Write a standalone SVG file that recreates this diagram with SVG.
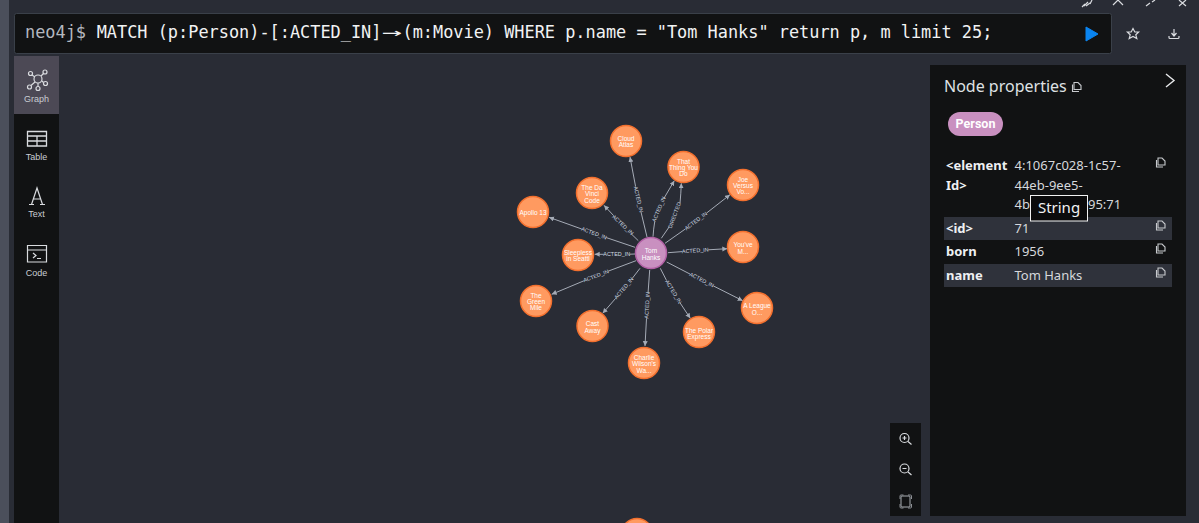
<svg xmlns="http://www.w3.org/2000/svg" width="1199" height="523" viewBox="0 0 1199 523">
<style>
.q{font-family:"DejaVu Sans Mono","Liberation Mono",monospace;font-size:16.9px;fill:#f2f3f4}
.n{font-family:"Liberation Sans",Arial,sans-serif;font-size:6.5px;fill:#fff;text-anchor:middle}
.rl{font-family:"Liberation Sans",Arial,sans-serif;font-size:5.4px;fill:#d3dde4;text-anchor:middle}
.movie{fill:#ff9a60;stroke:#f3702e;stroke-width:1.500}
.person{fill:#c990c0;stroke:#b261a5;stroke-width:1.500}
.e{fill:none;stroke:#a5abb6;stroke-width:1;marker-end:url(#a)}
.p{font-family:"Noto Sans","Open Sans",sans-serif;font-size:13px;fill:#d6d8dc}
.k{font-weight:700;fill:#eef0f2}
.s{font-family:"Liberation Sans",Arial,sans-serif;font-size:9px;fill:#c9ccd2;text-anchor:middle}
.i{fill:none;stroke:#d9dbdf;stroke-width:1.2}
</style>
<defs>
<marker id="a" markerUnits="userSpaceOnUse" markerWidth="6" markerHeight="6" refX="5" refY="2.500" orient="auto"><path d="M0 0L5 2.500L0 5Z" fill="#a5abb6"/></marker>
<g id="c"><path d="M-3 -4H1L4 -1V3H-3Z" fill="none" stroke="#c8cace" stroke-width="1.1"/><path d="M-4.500 -2V5H2" fill="none" stroke="#c8cace" stroke-width="1.1"/></g>
</defs>
<rect width="1199" height="523" fill="#292c35"/>
<rect width="9" height="523" fill="#4b4f5b"/>

<g id="query-bar">
<rect x="14.500" y="13.500" width="1097" height="40" rx="2" fill="#111213" stroke="#3a4049"/>
<text x="25" y="38" class="q"><tspan fill="#b4b8bf">neo4j$</tspan></text>
<text x="96.700" y="38" class="q">MATCH (p:Person)-[:ACTED_IN]</text>
<text x="381.500" y="38" class="q" textLength="20" lengthAdjust="spacingAndGlyphs">→</text>
<text x="402.500" y="38" class="q">(m:Movie) WHERE p.name = "Tom Hanks" return p, m limit 25;</text>
<path d="M1086 27L1098 34L1086 41Z" fill="#0a84f0" stroke="#0a84f0" stroke-linejoin="round"/>
</g>
<g id="toolbar">
<path d="M1133 28.500L1134.800 32H1138.600L1135.800 34.800L1136.800 38.500L1133 36.500L1129.200 38.500L1130.200 34.800L1127.400 32H1131.200Z" class="i"/>
<path d="M1174 29V35M1171.500 33L1174 36L1176.500 33M1169 36V37.500Q1169 38.500 1170 38.500H1178Q1179 38.500 1179 37.500V36" class="i"/>
<path d="M1084 6L1088 2M1092 0L1090 4M1082 7L1085 4M1086 6L1090 3" class="i"/>
<path d="M1113 5L1118 0L1123 5" class="i"/>
<path d="M1146 6L1150 3M1152 2L1155 0" class="i"/>
<path d="M1179 0L1186 6M1186 0L1179 6" class="i"/>
</g>

<g id="sidebar">
<rect x="14" y="56" width="45" height="467" fill="#111213"/>
<rect x="14" y="56" width="45" height="58" fill="#4c4955"/>
<g id="tab-graph">
<g class="i"><circle cx="38" cy="79" r="4"/><circle cx="30.500" cy="73.500" r="2"/><circle cx="45" cy="72" r="2"/><circle cx="29.500" cy="87" r="2"/><circle cx="45.500" cy="83.500" r="2"/><circle cx="38" cy="88.500" r="2"/><path d="M32 75L35 77M43.500 73.500L41 76M31 85.500L35 82M43.500 82.500L42 81M38 83V86.500"/></g>
<text x="36.500" y="102" class="s">Graph</text>
</g>
<g id="tab-table">
<path d="M27.500 131.500H46.500V146H27.500ZM27.500 136H46.500M27.500 141H46.500M37 136V146" fill="none" stroke="#d9dbdf" stroke-width="1.300"/>
<text x="36.500" y="160" class="s">Table</text>
</g>
<g id="tab-text">
<path d="M29 204.500H34M40 204.500H45M31.500 204.500L37 188L42.500 204.500M33 199H41" class="i"/>
<text x="36.500" y="217" class="s">Text</text>
</g>
<g id="tab-code">
<path d="M27.500 245.500H46.500V262H27.500ZM27.500 250H46.500M33 253L36 255.500L33 258M37 258.500H41" fill="none" stroke="#d9dbdf" stroke-width="1.200"/>
<text x="36.500" y="276" class="s">Code</text>
</g>
</g>

<g id="connectors">
<path class="e" d="M647 237L641 212M635.600 186.600L630 157"/>
<path class="e" d="M653 236.700Q653.500 229 654.700 221.700M664.300 197.700L674.300 180.700"/>
<path class="e" d="M661.300 238.300L669.300 226.700M680 203.300Q681 193 681.300 183.300"/>
<path class="e" d="M665 243.300L685.600 228.800M706.400 213.200L730 194.700"/>
<path class="e" d="M668 252.700L682.300 251.600M708.300 249.800L727.300 248.700"/>
<path class="e" d="M666.700 262L690.100 274.100M713.300 285.900L742.700 300.700"/>
<path class="e" d="M660.300 268.300L666.600 280.600M680 302.800L690.300 318.300"/>
<path class="e" d="M649.700 270L648.100 292.300M646.500 318.300L645 346"/>
<path class="e" d="M640 268.300L632.300 278.300M615.700 298.300L602.700 313.300"/>
<path class="e" d="M636 260.700L608.100 271.200M583.900 280.800L551.700 294.300"/>
<path class="e" d="M635 254L629.700 254.200M603.700 254.300L594.700 254.300"/>
<path class="e" d="M635 247.300L606.300 237.600M581.700 229L549 217.300"/>
<path class="e" d="M638.300 240.700L631.700 234.300M613.700 215.700L604 205.300"/>
<g id="connector-labels">
<text class="rl" transform="translate(638.300 199.300) rotate(77)" y="1.700">ACTED_IN</text>
<text class="rl" transform="translate(659 209.300) rotate(-67)" y="1.700">ACTED_IN</text>
<text class="rl" transform="translate(674.700 215.300) rotate(-70)" y="1.700">DIRECTED</text>
<text class="rl" transform="translate(696 221) rotate(-37)" y="1.700">ACTED_IN</text>
<text class="rl" transform="translate(695.300 250.700) rotate(-3.500)" y="1.700">ACTED_IN</text>
<text class="rl" transform="translate(701.700 280) rotate(27)" y="1.700">ACTED_IN</text>
<text class="rl" transform="translate(673.300 291.700) rotate(59)" y="1.700">ACTED_IN</text>
<text class="rl" transform="translate(647.300 305.300) rotate(-87)" y="1.700">ACTED_IN</text>
<text class="rl" transform="translate(624 288.300) rotate(-50)" y="1.700">ACTED_IN</text>
<text class="rl" transform="translate(596 276) rotate(-21)" y="1.700">ACTED_IN</text>
<text class="rl" transform="translate(616.700 254.300)" y="1.700">ACTED_IN</text>
<text class="rl" transform="translate(594 233.300) rotate(20)" y="1.700">ACTED_IN</text>
<text class="rl" transform="translate(622.700 225) rotate(43)" y="1.700">ACTED_IN</text>
</g>
</g>

<g id="node-tom-hanks"><circle class="person" cx="651" cy="253" r="15.500"/><text class="n" x="651" y="253">Tom</text><text class="n" x="651" y="260">Hanks</text></g>
<g id="node-cloud-atlas"><circle class="movie" cx="626" cy="141" r="15.500"/><text class="n" x="626" y="141">Cloud</text><text class="n" x="626" y="147">Atlas</text></g>
<g id="node-that-thing"><circle class="movie" cx="683.500" cy="167" r="15.500"/><text class="n" x="683.500" y="163.500">That</text><text class="n" x="683.500" y="169.500">Thing You</text><text class="n" x="683.500" y="175.500">Do</text></g>
<g id="node-joe"><circle class="movie" cx="743" cy="185" r="15.500"/><text class="n" x="743" y="181.500">Joe</text><text class="n" x="743" y="187.500">Versus</text><text class="n" x="743" y="193.500">Vo...</text></g>
<g id="node-youve"><circle class="movie" cx="743" cy="247" r="15.500"/><text class="n" x="743" y="247">You've</text><text class="n" x="743" y="254">M...</text></g>
<g id="node-league"><circle class="movie" cx="757" cy="308" r="15.500"/><text class="n" x="757" y="308">A League</text><text class="n" x="757" y="315">O...</text></g>
<g id="node-polar"><circle class="movie" cx="699" cy="332" r="15.500"/><text class="n" x="699" y="333">The Polar</text><text class="n" x="699" y="339">Express</text></g>
<g id="node-charlie"><circle class="movie" cx="644" cy="363" r="15.500"/><text class="n" x="644" y="360">Charlie</text><text class="n" x="644" y="366">Wilson's</text><text class="n" x="644" y="373">Wa...</text></g>
<g id="node-cast-away"><circle class="movie" cx="592.500" cy="326" r="15.500"/><text class="n" x="592.500" y="326">Cast</text><text class="n" x="592.500" y="333">Away</text></g>
<g id="node-green-mile"><circle class="movie" cx="536" cy="301" r="15.500"/><text class="n" x="536" y="298">The</text><text class="n" x="536" y="304">Green</text><text class="n" x="536" y="310">Mile</text></g>
<g id="node-sleepless"><circle class="movie" cx="578" cy="255" r="15.500"/><text class="n" x="578" y="255">Sleepless</text><text class="n" x="578" y="261">in Seattl</text></g>
<g id="node-apollo"><circle class="movie" cx="533" cy="212" r="15.500"/><text class="n" x="533" y="215">Apollo 13</text></g>
<g id="node-da-vinci"><circle class="movie" cx="592" cy="193" r="15.500"/><text class="n" x="592" y="190">The Da</text><text class="n" x="592" y="196">Vinci</text><text class="n" x="592" y="203">Code</text></g>
<g id="node-partial"><circle class="movie" cx="637" cy="534" r="15.500"/></g>

<g id="zoom-controls">
<rect x="890" y="423" width="31" height="93" fill="#111213"/>
<circle cx="904.500" cy="438" r="4.500" class="i"/><path d="M908 441.500L911.500 444.500M902.500 438H906.500M904.500 436V440" class="i"/>
<circle cx="904.500" cy="468.500" r="4.500" class="i"/><path d="M908 472L911.500 475M902.500 468.500H906.500" class="i"/>
<rect x="901" y="496" width="9" height="11" rx="1" fill="none" stroke="#aaadb3"/><path d="M900 499V496Q900 495 901 495H903.500M908 495H910.500Q911.500 495 911.500 496V499M911.500 504V507Q911.500 508 910.500 508H908M903.500 508H901Q900 508 900 507V504" fill="none" stroke="#8c8f95" stroke-width="1"/>
</g>

<g id="properties-panel">
<rect x="930" y="65" width="256" height="451" fill="#111213"/>
<text x="944" y="92" font-family="Noto Sans,Open Sans,sans-serif" font-size="16" fill="#dfe1e4">Node properties</text>
<use href="#c" x="1077" y="86.500"/>
<path d="M1166 74L1174 80.500L1166 87" fill="none" stroke="#e8e9eb" stroke-width="1.400"/>
<rect x="948" y="112" width="55" height="24" rx="12" fill="#c990c0"/>
<text x="975.500" y="128" font-family="Roboto,Liberation Sans,sans-serif" font-size="12.500" font-weight="700" fill="#fff" text-anchor="middle">Person</text>
<rect x="944" y="217" width="228" height="23" fill="#2f323b"/>
<rect x="944" y="264" width="228" height="23" fill="#2f323b"/>
<text x="946" y="170" class="p k">&lt;element</text><text x="946" y="190" class="p k">Id&gt;</text>
<text x="1014.500" y="170" class="p">4:1067c028-1c57-</text><text x="1014.500" y="190" class="p">44eb-9ee5-</text><text x="1014.500" y="209" class="p">4b</text><text x="1088" y="209" class="p">95:71</text>
<text x="946" y="233" class="p k">&lt;id&gt;</text><text x="1014.500" y="233" class="p">71</text>
<text x="946" y="256" class="p k">born</text><text x="1014.500" y="256" class="p">1956</text>
<text x="946" y="280" class="p k">name</text><text x="1014.500" y="280" class="p">Tom Hanks</text>
<use href="#c" x="1161" y="162"/><use href="#c" x="1161" y="225"/><use href="#c" x="1161" y="248"/><use href="#c" x="1161" y="272"/>
<rect x="1030.500" y="195.500" width="57" height="25.500" fill="#0b0b0c" stroke="#f2f2f2"/>
<text x="1059" y="213" font-family="Noto Sans,Open Sans,sans-serif" font-size="15" fill="#f2f2f2" text-anchor="middle">String</text>
</g>
</svg>
